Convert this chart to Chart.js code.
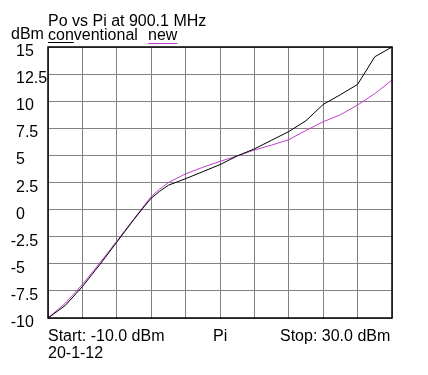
<!DOCTYPE html>
<html>
<head>
<meta charset="utf-8">
<script src="https://cdn.jsdelivr.net/npm/chart.js@4"></script>
<style>
html,body{margin:0;padding:0;background:#fff;}
#wrap{position:relative;width:428px;height:375px;}
</style>
</head>
<body>
<div id="wrap"><canvas id="c" width="428" height="375"></canvas></div>
<script>
// Input power Pi (dBm)
const piValues = [-10, -8, -6, -4, -2, 0, 1, 2, 3, 4, 6, 8, 10, 12, 14, 16, 18, 20, 22, 24, 26, 28, 30];
// Output power Po (dBm)
const conventional = [-10, -8.85, -7.1, -5.1, -3.0, -0.9, 0.1, 1.05, 1.7, 2.25, 2.85, 3.5, 4.15, 4.95, 5.6, 6.4, 7.2, 8.2, 9.7, 10.6, 11.55, 14.1, 15.0];
const newDesign    = [-10, -8.65, -6.9, -4.95, -2.9, -0.85, 0.2, 1.2, 1.9, 2.5, 3.3, 3.9, 4.45, 4.95, 5.5, 5.95, 6.45, 7.3, 8.1, 8.75, 9.65, 10.7, 11.95];
const seriesNames = ["conventional", "new"];
const titleText = "Po vs Pi at 900.1 MHz";
const yUnit = "dBm";
const yTicks = [-10, -7.5, -5, -2.5, 0, 2.5, 5, 7.5, 10, 12.5, 15];
const bottomLabels = ["Start: -10.0 dBm", "Pi", "Stop: 30.0 dBm"];
const dateLabel = "20-1-12";

const FONT = '16px "Liberation Sans", Arial, sans-serif';
const MAGENTA = '#bf3fd0';

const toPts = (ys) => piValues.map((x, i) => ({x: x, y: ys[i]}));

const decor = {
  id: 'decor',
  afterDraw(chart) {
    const ctx = chart.ctx;
    const a = chart.chartArea;
    const ys = chart.scales.y;
    ctx.save();
    ctx.strokeStyle = '#000';
    ctx.lineWidth = 1.5;
    ctx.strokeRect(a.left, a.top, a.right - a.left, a.bottom - a.top);
    ctx.font = FONT;
    ctx.fillStyle = '#000';
    ctx.textBaseline = 'alphabetic';
    ctx.textAlign = 'left';
    ctx.fillText(titleText, a.left, 25.5);
    ctx.fillText(yUnit, 11, 38.5);
    ctx.fillText(seriesNames[0], a.left, 40);
    ctx.fillText(seriesNames[1], 148, 40);
    ctx.lineWidth = 1;
    ctx.strokeStyle = '#000';
    ctx.beginPath(); ctx.moveTo(a.left, 42.5); ctx.lineTo(a.left + ctx.measureText('con').width, 42.5); ctx.stroke();
    ctx.strokeStyle = MAGENTA;
    ctx.beginPath(); ctx.moveTo(148, 43.5); ctx.lineTo(148 + ctx.measureText(seriesNames[1]).width, 43.5); ctx.stroke();
    const minusW = ctx.measureText('-').width;
    yTicks.forEach(v => {
      const y = ys.getPixelForValue(v);
      const s = String(v);
      const x = v < 0 ? 16 - minusW : 16;
      ctx.fillText(s, x, y + 9);
    });
    ctx.fillText(bottomLabels[0], a.left, 340.5);
    ctx.fillText(bottomLabels[1], 213, 340.5);
    ctx.fillText(bottomLabels[2], 280, 340.5);
    ctx.fillText(dateLabel, a.left, 357.5);
    ctx.restore();
  }
};

new Chart(document.getElementById('c'), {
  type: 'line',
  data: {
    datasets: [
      {label: seriesNames[0], data: toPts(conventional), borderColor: '#000', borderWidth: 1, pointRadius: 0, tension: 0, fill: false},
      {label: seriesNames[1], data: toPts(newDesign), borderColor: MAGENTA, borderWidth: 1, pointRadius: 0, tension: 0, fill: false}
    ]
  },
  options: {
    responsive: false,
    animation: false,
    events: [],
    layout: {padding: {left: 48, right: 36, top: 47, bottom: 57}},
    plugins: {legend: {display: false}, title: {display: false}, tooltip: {enabled: false}},
    scales: {
      x: {
        type: 'linear', min: -10, max: 30,
        ticks: {display: false, stepSize: 4},
        grid: {color: '#808080', lineWidth: 1, drawTicks: false},
        border: {display: false}
      },
      y: {
        type: 'linear', min: -10, max: 15,
        ticks: {display: false, stepSize: 2.5},
        grid: {color: '#808080', lineWidth: 1, drawTicks: false},
        border: {display: false}
      }
    }
  },
  plugins: [decor]
});
</script>
</body>
</html>
